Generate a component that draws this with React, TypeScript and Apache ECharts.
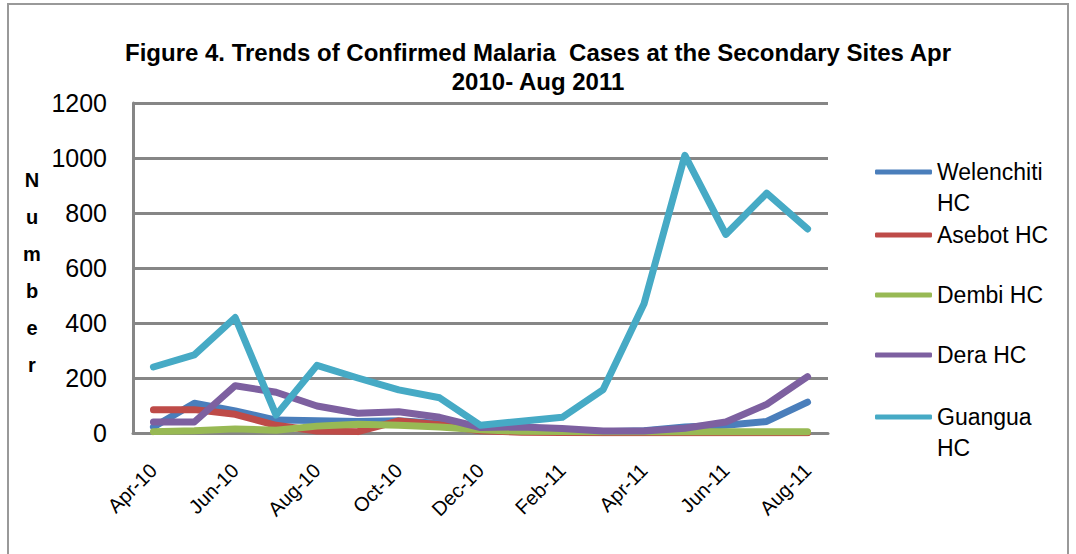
import React, { useEffect, useRef } from "react";
import * as echarts from "echarts";

const categories = ["Apr-10","May-10","Jun-10","Jul-10","Aug-10","Sep-10","Oct-10","Nov-10","Dec-10","Jan-11","Feb-11","Mar-11","Apr-11","May-11","Jun-11","Jul-11","Aug-11"];
const welenchiti = [22,108,80,47,45,42,45,35,17,8,5,5,8,22,28,42,112];
const asebot = [85,85,68,28,7,5,44,30,8,3,2,1,1,1,1,1,1];
const dembi = [5,8,15,10,25,32,28,22,12,6,5,5,5,5,5,5,5];
const dera = [40,40,172,148,98,72,77,57,20,22,16,7,7,17,40,104,205];
const guangua = [240,284,420,65,246,200,157,128,28,43,57,158,470,1010,722,872,742];
const yTicks = [0, 200, 400, 600, 800, 1000, 1200];

const seriesNames = ["Welenchiti HC","Asebot HC","Dembi HC","Dera HC","Guangua HC"];
const seriesData = [welenchiti, asebot, dembi, dera, guangua];
const colors = ["#4A7EBB","#BE4B48","#98B954","#7D60A0","#46AAC5"];
const legendLabels = ["\u00a0\nWelenchiti\nHC","Asebot HC","Dembi HC","Dera HC","\u00a0\nGuangua\nHC"];
const legendCenters = [172, 235, 295, 355, 417];

const FONT = "Liberation Sans, Arial, sans-serif";

export default function App() {
  const ref = useRef<HTMLDivElement>(null);
  useEffect(() => {
    if (!ref.current) return;
    const chart = echarts.init(ref.current, null, { renderer: "svg" });
    const legends = seriesNames.map((name, i) => {
      const threeLine = legendLabels[i].split("\n").length === 3;
      return {
        data: [name],
        left: 875,
        top: threeLine ? legendCenters[i] - 46.5 : legendCenters[i] - 15.5,
        padding: 0,
        orient: "vertical",
        itemWidth: 57,
        itemHeight: 5,
        icon: "roundRect",
        selectedMode: false,
        formatter: () => legendLabels[i],
        textStyle: {
          fontFamily: FONT,
          fontSize: 23,
          color: "#000",
          lineHeight: 31,
        },
      };
    });
    chart.setOption({
      animation: false,
      color: colors,
      title: {
        text: "Figure 4. Trends of Confirmed Malaria  Cases at the Secondary Sites Apr\n2010- Aug 2011",
        left: "center",
        top: 33,
        textStyle: { fontFamily: FONT, fontSize: 24, fontWeight: "bold", color: "#000", lineHeight: 29 },
      },
      legend: legends,
      grid: { left: 133, right: 248, top: 103, bottom: 121 },
      xAxis: {
        type: "category",
        data: categories,
        boundaryGap: true,
        axisLine: { show: true, lineStyle: { color: "#868686", width: 3 } },
        axisTick: { show: false },
        axisLabel: { interval: 1, rotate: 45, fontSize: 20, fontFamily: FONT, color: "#000", margin: 34 },
      },
      yAxis: {
        type: "value",
        min: yTicks[0],
        max: yTicks[yTicks.length - 1],
        interval: 200,
        axisLine: { show: true, lineStyle: { color: "#868686", width: 3 } },
        axisTick: { show: false },
        splitLine: { lineStyle: { color: "#868686", width: 3 } },
        axisLabel: { fontSize: 25, fontFamily: FONT, color: "#000", margin: 26, formatter: (v: number) => String(v) },
      },
      series: seriesNames.map((name, i) => ({
        name,
        type: "line",
        data: seriesData[i],
        symbol: "none",
        lineStyle: { width: 7, cap: "round", join: "round", color: colors[i] },
        itemStyle: { color: colors[i] },
      })),
      graphic: [
        {
          type: "rect",
          shape: { x: 8, y: 4, width: 1060, height: 600 },
          style: { fill: "none", stroke: "#999", lineWidth: 2 },
          silent: true,
        },
        {
          type: "text",
          x: 32,
          y: 272,
          style: {
            text: "N\nu\nm\nb\ne\nr",
            fontFamily: FONT,
            fontSize: 20,
            fontWeight: "bold",
            fill: "#000",
            lineHeight: 37,
            align: "center",
            verticalAlign: "middle",
          },
        },
      ],
    });
    return () => chart.dispose();
  }, []);
  return (
    <div
      ref={ref}
      style={{ position: "fixed", left: 0, top: 0, width: 1076, height: 554, background: "#fff" }}
    />
  );
}
